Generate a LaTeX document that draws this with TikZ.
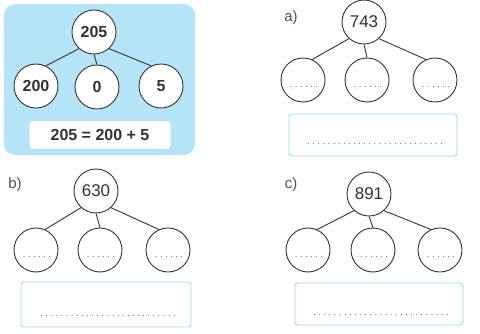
\documentclass[tikz,border=0pt]{standalone}
\usepackage{fontspec}
\setmainfont{Liberation Sans}
\definecolor{bgblue}{HTML}{B5E4F7}
\definecolor{boxline}{HTML}{9ED8EE}
\definecolor{ink}{HTML}{333333}
\tikzset{
  x=1pt,y=-1pt,
  bub/.style={circle,draw=ink,line width=0.9pt,fill=white,minimum size=44pt,inner sep=0pt,text=ink},
  bigtxt/.style={font=\fontsize{16}{16}\selectfont\bfseries},
  numtxt/.style={font=\fontsize{17}{17}\selectfont},
  link/.style={draw=ink,line width=0.9pt},
  ansbox/.style={draw=boxline,line width=0.9pt,fill=white,rounded corners=3pt},
  lbl/.style={font=\fontsize{15}{15}\selectfont,text=ink!85},
  dots/.style={font=\fontsize{8}{8}\selectfont\addfontfeature{LetterSpace=36},text=ink,inner sep=0pt},
}
\begin{document}
\begin{tikzpicture}
\useasboundingbox (0,0) rectangle (480,334);
% example panel
\fill[bgblue,rounded corners=11pt] (4,4) rectangle (195,155);
\node[bub,bigtxt] (t0) at (94,32) {205};
\node[bub,bigtxt] (l0) at (36,86) {200};
\node[bub,bigtxt] (m0) at (97,87) {0};
\node[bub,bigtxt] (r0) at (161,86) {5};
\draw[link] (t0.228) -- (l0.64);
\draw[link] (t0.south) -- (m0.north);
\draw[link] (t0.-48) -- (r0.116);
\node[draw=white,line width=0.8pt,fill=white,rounded corners=3pt,minimum width=140pt,minimum height=27pt,inner sep=0pt,bigtxt,text=ink] (e0) at (100,135) {205 = 200 + 5};
% panel a
\node[lbl] (la) at (291,18) {a)};
\node[bub,numtxt] (ta) at (364,22) {743};
\node[bub] (lA) at (303,80) {};
\node[bub] (mA) at (367,80) {};
\node[bub] (rA) at (435,80) {};
\draw[link] (ta.228) -- (lA.66);
\draw[link] (ta.south) -- (mA.north);
\draw[link] (ta.-48) -- (rA.114);
\node[dots] at (304,87) {......};
\node[dots] at (368,87) {......};
\node[dots] at (436,87) {......};
\node[ansbox,minimum width=168pt,minimum height=42pt] (ba) at (373,135) {};
\node[dots] at (375,144) {...........................};
% panel b
\node[lbl] (lb) at (15,185) {b)};
\node[bub,numtxt] (tb) at (96,191) {630};
\node[bub] (lB) at (36,250) {};
\node[bub] (mB) at (100,250) {};
\node[bub] (rB) at (168,250) {};
\draw[link] (tb.228) -- (lB.66);
\draw[link] (tb.south) -- (mB.north);
\draw[link] (tb.-48) -- (rB.114);
\node[dots] at (37,257) {......};
\node[dots] at (101,257) {......};
\node[dots] at (169,257) {......};
\node[ansbox,minimum width=170pt,minimum height=45pt] (bb) at (106,304.5) {};
\node[dots] at (108,316) {...........................};
% panel c
\node[lbl] (lc) at (291,185) {c)};
\node[bub,numtxt] (tc) at (369,194) {891};
\node[bub] (lC) at (308,250) {};
\node[bub] (mC) at (373,250) {};
\node[bub] (rC) at (440,250) {};
\draw[link] (tc.228) -- (lC.66);
\draw[link] (tc.south) -- (mC.north);
\draw[link] (tc.-48) -- (rC.114);
\node[dots] at (309,257) {......};
\node[dots] at (374,257) {......};
\node[dots] at (441,257) {......};
\node[ansbox,minimum width=168pt,minimum height=42pt] (bc) at (379,304) {};
\node[dots] at (381,315) {...........................};
\end{tikzpicture}
\end{document}
